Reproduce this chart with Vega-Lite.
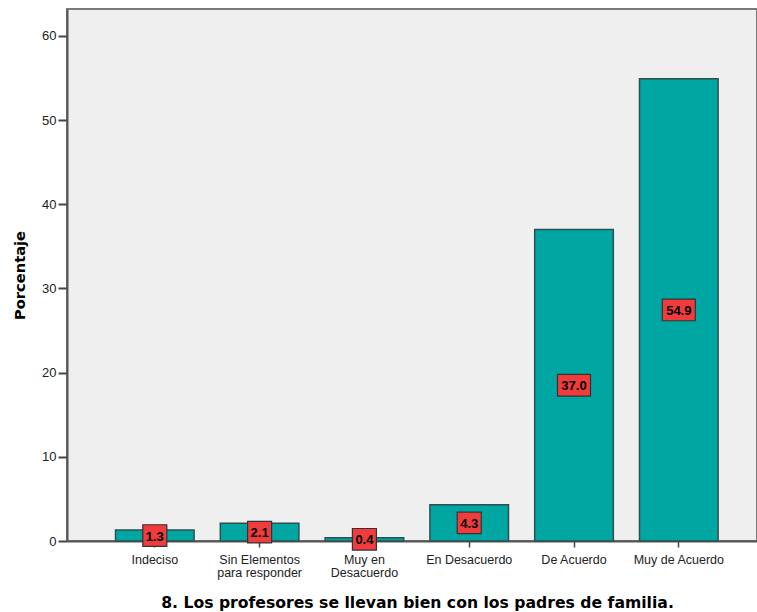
{
  "$schema": "https://vega.github.io/schema/vega-lite/v6.json",
  "autosize": "none",
  "width": 690,
  "height": 532,
  "padding": {"left": 67, "top": 9, "right": 0, "bottom": 71},
  "background": "#ffffff",
  "config": {
    "view": {"fill": "#efefef", "stroke": "#7a7a7a", "strokeWidth": 2},
    "font": "Liberation Sans"
  },
  "data": {
    "values": [
      {"cat": "Indeciso", "pct": 1.3},
      {"cat": "Sin Elementos|para responder", "pct": 2.1},
      {"cat": "Muy en|Desacuerdo", "pct": 0.4},
      {"cat": "En Desacuerdo", "pct": 4.3},
      {"cat": "De Acuerdo", "pct": 37.0},
      {"cat": "Muy de Acuerdo", "pct": 54.9}
    ]
  },
  "encoding": {
    "x": {
      "field": "cat",
      "type": "nominal",
      "sort": null,
      "scale": {"paddingInner": 0.25, "paddingOuter": 0.417, "align": 0.555},
      "axis": {
        "title": "8. Los profesores se llevan bien con los padres de familia.",
        "titleFont": "DejaVu Sans",
        "titleFontSize": 15.65,
        "titleFontWeight": "bold",
        "titleColor": "#000000",
        "titlePadding": 16,
        "titleX": 350,
        "titleAlign": "center",
        "labelAngle": 0,
        "labelExpr": "split(datum.value, '|')",
        "labelFont": "Liberation Sans",
        "labelFontSize": 12.5,
        "labelColor": "#222222",
        "labelLineHeight": 13.5,
        "labelPadding": 6,
        "tickSize": 6,
        "tickColor": "#444444",
        "tickWidth": 1.5,
        "domainColor": "#555555",
        "domainWidth": 2
      }
    },
    "y": {
      "field": "pct",
      "type": "quantitative",
      "scale": {"domain": [0, 63.2], "nice": false, "zero": true},
      "axis": {
        "title": "Porcentaje",
        "titleFont": "DejaVu Sans",
        "titleFontSize": 14.7,
        "titleFontWeight": "bold",
        "titleColor": "#000000",
        "titlePadding": 14,
        "values": [0, 10, 20, 30, 40, 50, 60],
        "grid": false,
        "labelFont": "Liberation Sans",
        "labelFontSize": 13,
        "labelColor": "#222222",
        "labelPadding": 2,
        "tickSize": 9,
        "tickColor": "#444444",
        "tickWidth": 2,
        "domainColor": "#555555",
        "domainWidth": 2
      }
    }
  },
  "layer": [
    {
      "mark": {"type": "bar", "fill": "#00a6a2", "stroke": "#2f4f4f", "strokeWidth": 1.5}
    },
    {
      "transform": [{"calculate": "datum.pct / 2", "as": "mid"}],
      "mark": {"type": "point", "filled": true, "fill": "#f03c3c", "stroke": "#333333", "strokeWidth": 1.2, "opacity": 1, "size": 900},
      "encoding": {
        "y": {"field": "mid", "type": "quantitative"},
        "shape": {
          "condition": {"test": "datum.pct >= 10", "value": "M-1.1,-0.72L1.1,-0.72L1.1,0.72L-1.1,0.72Z"},
          "value": "M-0.8,-0.72L0.8,-0.72L0.8,0.72L-0.8,0.72Z"
        }
      }
    },
    {
      "transform": [{"calculate": "datum.pct / 2", "as": "mid"}],
      "mark": {"type": "text", "font": "Liberation Sans", "fontWeight": "bold", "fontSize": 13, "color": "#000000", "baseline": "middle", "align": "center", "dy": 1},
      "encoding": {
        "y": {"field": "mid", "type": "quantitative"},
        "text": {"field": "pct", "type": "quantitative", "format": ".1f"}
      }
    }
  ]
}
